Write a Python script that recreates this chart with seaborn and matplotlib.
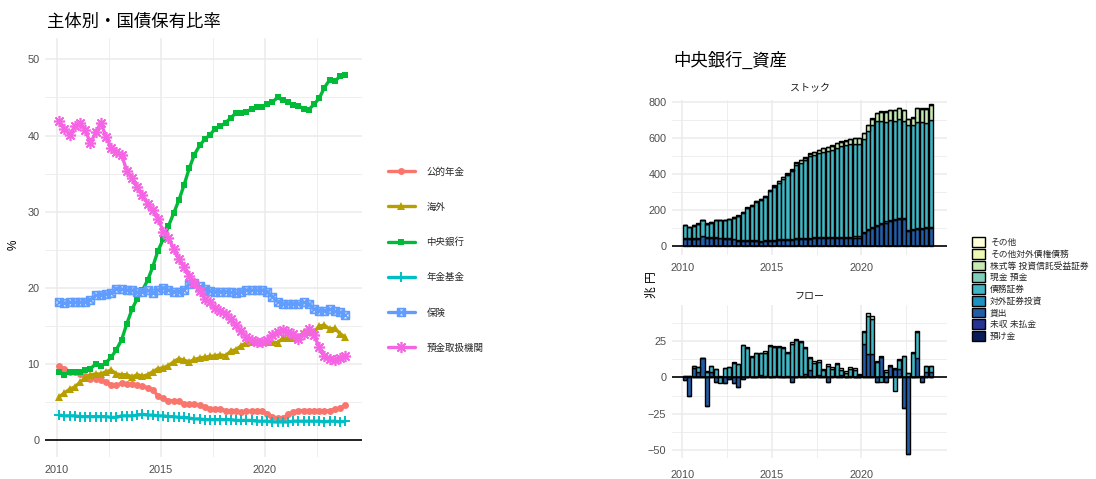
import numpy as np
import pandas as pd
import matplotlib
matplotlib.use("Agg")
import matplotlib.pyplot as plt
from matplotlib.lines import Line2D
from matplotlib.patches import Patch
from matplotlib.path import Path
from matplotlib.ticker import MultipleLocator
import seaborn as sns

# ---------------------------------------------------------------- data
# quarterly observations 2010Q1-2023Q4, positioned at mid-quarter
quarters = pd.period_range("2010Q1", "2023Q4", freq="Q")
t = np.asarray(quarters.year + (quarters.quarter - 1) * 0.25 + 0.125, dtype=float)

# JGB holding share by holder (%)
public_pension = [9.7, 9.4, 9.0, 9.0, 8.7, 8.4, 8.1, 8.1, 7.9, 7.6,
                  7.3, 7.2, 7.5, 7.4, 7.4, 7.2, 7.1, 6.9, 6.6, 5.8,
                  5.5, 5.2, 5.2, 5.1, 4.8, 4.8, 4.7, 4.6, 4.4, 4.1,
                  4.1, 4.1, 3.9, 3.8, 3.8, 3.7, 3.8, 3.8, 3.8, 3.8,
                  3.5, 3.1, 2.9, 2.9, 3.4, 3.7, 3.9, 3.9, 3.9, 3.9,
                  3.9, 3.8, 3.9, 4.1, 4.2, 4.6]
overseas = [5.7, 6.2, 6.7, 7.0, 7.6, 8.2, 8.6, 8.7, 8.7, 9.0,
            9.2, 8.7, 8.6, 8.6, 8.3, 8.6, 8.4, 8.6, 9.0, 9.4,
            9.5, 9.8, 10.3, 10.7, 10.5, 10.3, 10.6, 10.8, 10.9, 11.0,
            11.1, 11.2, 11.1, 11.7, 11.9, 12.4, 12.8, 12.9, 12.9, 12.9,
            12.9, 12.9, 12.8, 13.4, 13.4, 13.4, 13.5, 14.2, 14.2, 14.2,
            15.0, 15.1, 14.6, 14.7, 14.0, 13.5]
central_bank = [9.0, 8.6, 9.0, 9.0, 9.0, 9.2, 9.4, 10.0, 9.7, 10.2,
                10.9, 11.9, 13.2, 15.3, 17.2, 18.6, 19.7, 21.0, 22.8, 24.9,
                26.4, 28.1, 29.8, 31.5, 33.5, 35.7, 37.5, 38.7, 39.5, 40.1,
                40.9, 41.2, 41.7, 42.3, 43.0, 43.0, 43.1, 43.5, 43.8, 43.7,
                44.2, 44.4, 45.0, 44.6, 44.4, 44.0, 43.9, 43.5, 43.4, 44.1,
                44.9, 46.3, 47.3, 47.1, 47.8, 48.0]
pension_funds = [3.3, 3.2, 3.2, 3.2, 3.1, 3.1, 3.1, 3.1, 3.1, 3.1,
                 3.0, 3.0, 3.2, 3.2, 3.2, 3.3, 3.4, 3.3, 3.3, 3.2,
                 3.2, 3.1, 3.1, 3.0, 3.0, 2.9, 2.8, 2.8, 2.7, 2.7,
                 2.7, 2.7, 2.7, 2.7, 2.6, 2.6, 2.6, 2.6, 2.5, 2.5,
                 2.5, 2.4, 2.4, 2.4, 2.4, 2.5, 2.5, 2.5, 2.5, 2.5,
                 2.5, 2.4, 2.5, 2.5, 2.4, 2.5]
insurance = [18.1, 18.0, 18.1, 18.1, 18.1, 18.2, 18.4, 19.0, 19.1, 19.2,
             19.3, 19.9, 19.8, 19.7, 19.7, 19.4, 19.5, 19.7, 19.3, 19.7,
             20.0, 19.7, 19.5, 19.5, 19.7, 20.5, 20.7, 20.2, 19.9, 19.6,
             19.5, 19.5, 19.5, 19.4, 19.3, 19.5, 19.7, 19.7, 19.7, 19.7,
             19.5, 18.8, 18.2, 17.9, 17.9, 17.9, 17.9, 18.1, 17.9, 17.2,
             17.0, 17.0, 17.2, 16.9, 16.8, 16.4]
depository = [41.9, 40.9, 40.1, 41.2, 41.7, 40.7, 39.0, 40.4, 41.7, 39.8,
              38.4, 37.9, 37.5, 35.3, 34.4, 33.3, 32.2, 31.0, 30.2, 29.1,
              27.4, 26.6, 25.1, 23.8, 22.7, 21.6, 20.7, 19.6, 18.6, 18.1,
              17.3, 17.0, 16.6, 15.9, 15.1, 14.3, 13.5, 13.1, 12.9, 12.9,
              13.1, 13.8, 14.2, 14.5, 14.2, 14.0, 13.3, 14.0, 14.6, 13.8,
              12.2, 11.1, 10.7, 10.5, 10.8, 11.0]

holders = ["公的年金", "海外", "中央銀行", "年金基金", "保険", "預金取扱機関"]
holder_values = [public_pension, overseas, central_bank, pension_funds,
                 insurance, depository]

# central bank assets (trillion yen): stock
loans_stock = [42, 40, 40, 42, 55, 47, 46, 45, 44, 43,
               42, 38, 32, 30, 29, 28, 27, 26, 27, 28,
               30, 33, 34, 35, 36, 38, 40, 42, 43, 44,
               45, 46, 47, 48, 48, 48, 48, 48, 49, 49,
               72, 88, 104, 115, 125, 132, 140, 146, 152, 150,
               85, 88, 95, 96, 100, 102]
foreign_sec_stock = [4, 4, 4, 4, 4, 4, 5, 5, 5, 5,
                     5, 5, 5, 5, 5, 5, 6, 6, 6, 6,
                     6, 6, 6, 6, 6, 6, 6, 6, 6, 6,
                     6, 6, 6, 6, 6, 6, 6, 6, 6, 6,
                     6, 6, 6, 6, 6, 6, 6, 6, 6, 6,
                     7, 7, 7, 7, 7, 7]
debt_sec_stock = [71.5, 61.5, 71.5, 78.5, 84.5, 73.5, 80.5, 94, 95, 96,
                  103, 115.5, 131.5, 151, 177, 190.5, 214, 226, 241, 274,
                  294, 314, 335, 354, 374, 409, 419, 431, 451, 457,
                  465, 472, 475, 482, 494, 502, 506, 514, 515, 514,
                  520, 546, 563, 572, 566, 554, 554, 545, 546, 541,
                  580, 579, 590, 585, 578, 592]
equity_stock = [1.5, 1.5, 1.5, 1.5, 1.5, 1.5, 1.5, 2, 2, 2,
                2, 2.5, 2.5, 3, 3, 3.5, 4, 4, 5, 5,
                6, 7, 8, 9, 10, 11, 12, 13, 15, 17,
                18, 19, 21, 22, 24, 25, 27, 28, 30, 31,
                30, 32, 36, 45, 50, 55, 57, 60, 62, 60,
                35, 40, 75, 75, 78, 85]
other_stock = [2, 2, 2, 2, 2, 2, 2, 2, 2, 2,
               2, 2, 2, 2, 2, 2, 2, 2, 2, 2,
               2, 2, 2, 2, 2, 2, 2, 2, 2, 2,
               2, 2, 2, 2, 2, 2, 2, 2, 2, 2,
               2, 2, 2, 2, 2, 2, 2, 2, 2, 2,
               2, 2, 2, 2, 2, 2]

# central bank assets (trillion yen): flow
loans_flow = [-2, -12.5, 6.5, 4, 13, -19.5, 3.5, -3.5, 0.5, -4,
              -1, -4, -6.5, -1, 0.5, 0, 0.5, 1.5, 1, 0.5,
              1, 1, 0.5, 1, -3, 0.5, 1, 2, 5, 1,
              1.5, 1, -3.5, 1, 1, 1.5, 0.5, 1, 0.5, 0.3,
              23, 16, 16, -3.5, 14, -3.5, 7.5, 6, 6, -21,
              -52.5, 0.5, 13.5, -3, 3.5, 4]
debt_sec_flow = [1, 1, 1, 3, 0, 4, 4, 5.5, -4, 6.5,
                 7, 10, 9, 22, 20, 14, 16, 15, 16, 21,
                 20, 20, 19.5, 15.5, 23, 25, 23, 18, 8, 9,
                 9, 4, 8, 5, 8, 3.5, 2.5, 4.5, 4.5, 1.5,
                 8, 26, 24, 10.5, -3, 4, 0, -9.5, 6, 14.5,
                 3, 16.5, 18, 0.5, 4, 3.5]
equity_flow = [0.2, 0.2, 0.2, 0.2, 0.2, 0.2, 0.2, 0.2, 0.2, 0.2,
               0.3, 0.3, 0.3, 0.5, 0.5, 0.5, 0.5, 0.5, 0.8, 0.8,
               0.8, 0.8, 0.8, 0.8, 1.0, 1.0, 1.0, 1.0, 1.2, 1.5,
               1.5, 1.0, 1.2, 1.2, 1.0, 1.5, 1.2, 1.5, 1.2, 0.8,
               1.0, 2.0, 2.5, 1.0, 0.8, 0.8, 0.8, 0.5, 0.5, 0.5,
               0.3, 0.3, 0.5, 0.5, 0.5, 0.5]

asset_items = ["その他", "その他対外債権債務", "株式等 投資信託受益証券", "現金 預金",
               "債務証券", "対外証券投資", "貸出", "未収 未払金", "預け金"]
asset_colors = ["#FFFFD9", "#EDF8B1", "#C7E9B4", "#7FCDBB", "#41B6C4",
                "#1D91C0", "#225EA8", "#253494", "#081D58"]

stock_series = {"貸出": loans_stock, "対外証券投資": foreign_sec_stock,
                "債務証券": debt_sec_stock, "株式等 投資信託受益証券": equity_stock,
                "その他": other_stock}
flow_series = {"貸出": loans_flow, "債務証券": debt_sec_flow,
               "株式等 投資信託受益証券": equity_flow}

# ---------------------------------------------------------------- style
sns.set_style("white")
plt.rcParams["font.family"] = ["Liberation Sans", "Noto Sans CJK JP", "DejaVu Sans"]
GRID = "#EBEBEB"
TICK = "#4D4D4D"

W, H = 1096, 479
fig = plt.figure(figsize=(W / 100, H / 100), dpi=100)


def box(x0, y0, x1, y1):
    return [x0 / W, 1 - y1 / H, (x1 - x0) / W, (y1 - y0) / H]


def style_axes(ax, xmaj, xmin, ymaj, ymin, xpad, ypad):
    ax.xaxis.set_major_locator(MultipleLocator(xmaj))
    ax.xaxis.set_minor_locator(MultipleLocator(xmin))
    ax.yaxis.set_major_locator(MultipleLocator(ymaj))
    ax.yaxis.set_minor_locator(MultipleLocator(ymin))
    ax.grid(which="major", color=GRID, lw=1.1)
    ax.grid(which="minor", color=GRID, lw=0.6)
    ax.set_axisbelow(True)
    for s in ax.spines.values():
        s.set_visible(False)
    ax.tick_params(axis="x", which="both", length=0, pad=xpad, labelsize=7.8, labelcolor=TICK)
    ax.tick_params(axis="y", which="both", length=0, pad=ypad, labelsize=7.8, labelcolor=TICK)
    ax.set_xlabel("")
    ax.set_ylabel("")


# ---------------------------------------------------------------- left: holding shares
ax1 = fig.add_axes(box(45, 38, 362, 457))

# square with a cross, drawn as line art
sq_cross = Path([(-1, -1), (1, -1), (1, 1), (-1, 1), (-1, -1),
                 (-1, -1), (1, 1), (-1, 1), (1, -1)],
                [Path.MOVETO, Path.LINETO, Path.LINETO, Path.LINETO, Path.CLOSEPOLY,
                 Path.MOVETO, Path.LINETO, Path.MOVETO, Path.LINETO])

hue_colors = ["#F8766D", "#B79F00", "#00BA38", "#00BFC4", "#619CFF", "#F564E3"]
marker_kw = [
    dict(marker="o", markersize=5, mew=0),
    dict(marker="^", markersize=5.5, mew=0),
    dict(marker="s", markersize=5, mew=0),
    dict(marker="+", markersize=7, mew=1.4),
    dict(marker=sq_cross, markersize=5.5, markerfacecolor="none", mew=1.3),
    dict(marker=(8, 2, 0), markersize=8, mew=1.2),
]

shares = pd.DataFrame({
    "t": np.tile(t, len(holders)),
    "share": np.concatenate([np.asarray(v, dtype=float) for v in holder_values]),
    "holder": np.repeat(holders, len(t)),
})

handles = []
for name, col, mk in zip(holders, hue_colors, marker_kw):
    sns.lineplot(data=shares[shares["holder"] == name], x="t", y="share",
                 color=col, lw=2.4, markeredgecolor=col, ax=ax1,
                 errorbar=None, legend=False, **mk)
    handles.append(Line2D([], [], color=col, lw=2.4, markeredgecolor=col, **mk))

ax1.axhline(0, color="black", lw=1.2, zorder=1.5)
ax1.set_xlim(2009.44, 2024.68)
ax1.set_ylim(-2.2, 52.8)
style_axes(ax1, 5, 2.5, 10, 5, xpad=6, ypad=4)

fig.text(14 / W, 1 - 245 / H, "%", rotation=90, ha="center", va="center",
         fontsize=8.5, color="black")
fig.text(47 / W, 1 - 22 / H, "主体別・国債保有比率", ha="left", va="center",
         fontsize=12.5, color="black")

fig.legend(handles, holders, loc="center left", bbox_to_anchor=(383 / W, 1 - 260 / H),
           frameon=False, fontsize=6.8, labelspacing=2.75, handlelength=2.9,
           handletextpad=1.2, borderpad=0)

# ---------------------------------------------------------------- right: central bank assets
color_of = dict(zip(asset_items, asset_colors))
stack_order = asset_items[::-1]   # stacked outward from zero


def stacked_bars(ax, series):
    pos_base = np.zeros(len(t))
    neg_base = np.zeros(len(t))
    for item in stack_order:
        if item not in series:
            continue
        v = np.asarray(series[item], dtype=float)
        pos = np.where(v > 0, v, 0.0)
        neg = np.where(v < 0, v, 0.0)
        ax.bar(t, pos, width=0.225, bottom=pos_base, color=color_of[item],
               edgecolor="black", linewidth=1.0, zorder=2)
        if np.any(neg < 0):
            ax.bar(t, neg, width=0.225, bottom=neg_base, color=color_of[item],
                   edgecolor="black", linewidth=1.0, zorder=2)
        pos_base += pos
        neg_base += neg


ax2 = fig.add_axes(box(672, 100, 947, 255))
stacked_bars(ax2, stock_series)
ax2.axhline(0, color="black", lw=1.2, zorder=3)
ax2.set_xlim(2009.42, 2024.79)
ax2.set_ylim(-48, 812)
style_axes(ax2, 5, 2.5, 200, 100, xpad=6, ypad=4)

ax3 = fig.add_axes(box(672, 305, 947, 458))
stacked_bars(ax3, flow_series)
ax3.axhline(0, color="black", lw=1.2, zorder=3)
ax3.set_xlim(2009.42, 2024.79)
ax3.set_ylim(-55.5, 49.8)
style_axes(ax3, 5, 2.5, 25, 12.5, xpad=9, ypad=4)

fig.text(810 / W, 1 - 88 / H, "ストック", ha="center", va="center", fontsize=7.2, color="#1A1A1A")
fig.text(810 / W, 1 - 296 / H, "フロー", ha="center", va="center", fontsize=7.2, color="#1A1A1A")
fig.text(673 / W, 1 - 60 / H, "中央銀行_資産", ha="left", va="center",
         fontsize=12.5, color="black")
fig.text(652 / W, 1 - 285 / H, "兆 円", rotation=90, ha="center", va="center",
         fontsize=8.5, color="black")

patches = [Patch(facecolor=c, edgecolor="black", linewidth=1.0) for c in asset_colors]
fig.legend(patches, asset_items, loc="center left", bbox_to_anchor=(968 / W, 1 - 289 / H),
           frameon=False, fontsize=6.3, labelspacing=0.22, handlelength=1.45,
           handleheight=1.35, handletextpad=0.55, borderpad=0)

fig.savefig("out.png", dpi=100)
